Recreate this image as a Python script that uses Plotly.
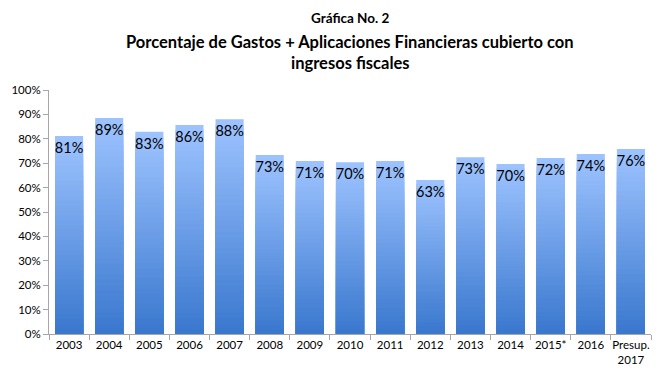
import plotly.graph_objects as go

categories = ["2003", "2004", "2005", "2006", "2007", "2008", "2009", "2010",
              "2011", "2012", "2013", "2014", "2015*", "2016", "Presup.<br>2017"]
values = [81.1, 88.5, 82.9, 85.7, 88.0, 73.4, 70.9, 70.4, 70.9, 63.1, 72.4, 69.7, 72.1, 73.8, 75.8]
labels = ["81%", "89%", "83%", "86%", "88%", "73%", "71%", "70%", "71%", "63%",
          "73%", "70%", "72%", "74%", "76%"]
y_ticks = [0, 10, 20, 30, 40, 50, 60, 70, 80, 90, 100]
y_tick_labels = [f"{t}%" for t in y_ticks]

FONT = "Lato"
top_rgb = (157, 195, 255)
bot_rgb = (58, 120, 206)
N = 40

PLOT_TOP, PLOT_BOT = 90, 334
def py(pix):
    return (PLOT_BOT - pix) / (PLOT_BOT - PLOT_TOP)

fig = go.Figure()
# gradient: overlaid bars from the same base, each shorter and darker
for k in range(N):
    f = 1 - k / N
    t = k / (N - 1)
    c = tuple(round(top_rgb[i] + (bot_rgb[i] - top_rgb[i]) * t) for i in range(3))
    fig.add_trace(go.Bar(
        x=categories, y=[v * f for v in values],
        marker=dict(color=f"rgb{c}", line=dict(width=0)),
        hoverinfo="skip", showlegend=False,
    ))
fig.add_trace(go.Bar(
    x=categories, y=values, text=labels,
    textposition="inside", insidetextanchor="end", textangle=0,
    textfont=dict(family=FONT, size=14.5, color="#000000"),
    marker=dict(color="rgba(0,0,0,0)", line=dict(width=0)),
    showlegend=False, hoverinfo="skip",
))

fig.update_layout(
    width=665, height=384,
    barmode="overlay", bargap=0.3,
    margin=dict(l=49, r=14, t=PLOT_TOP, b=384 - PLOT_BOT),
    paper_bgcolor="white", plot_bgcolor="white",
    font=dict(family=FONT, size=12, color="#000000"),
    uniformtext=dict(minsize=14, mode="show"),
    annotations=[
        dict(text="<b>Gráfica No. 2</b>", x=0.5, y=py(18), xref="paper", yref="paper",
             xanchor="center", yanchor="middle", showarrow=False,
             font=dict(family=FONT, size=13.5, color="#000")),
        dict(text="<b>Porcentaje de Gastos + Aplicaciones Financieras cubierto con</b>",
             x=0.5, y=py(42), xref="paper", yref="paper",
             xanchor="center", yanchor="middle", showarrow=False,
             font=dict(family=FONT, size=16.5, color="#000")),
        dict(text="<b>ingresos fiscales</b>",
             x=0.5, y=py(63), xref="paper", yref="paper",
             xanchor="center", yanchor="middle", showarrow=False,
             font=dict(family=FONT, size=16.5, color="#000")),
    ],
)
fig.update_xaxes(
    type="category", tickson="boundaries", ticks="outside", ticklen=5,
    tickangle=0,
    tickcolor="#A6A6A6", showline=True, linecolor="#A6A6A6", linewidth=1,
    showgrid=False, tickfont=dict(family=FONT, size=11.5, color="#000"),
)
fig.update_yaxes(
    range=[0, 100], tickvals=y_ticks, ticktext=y_tick_labels,
    ticks="outside", ticklen=5, tickcolor="#A6A6A6", showline=True,
    linecolor="#A6A6A6", linewidth=1, showgrid=False, zeroline=False,
    tickfont=dict(family=FONT, size=11.5, color="#000"),
)

fig.write_html("out.html", config={"displayModeBar": False},
               post_script="document.body.style.margin='0';")
